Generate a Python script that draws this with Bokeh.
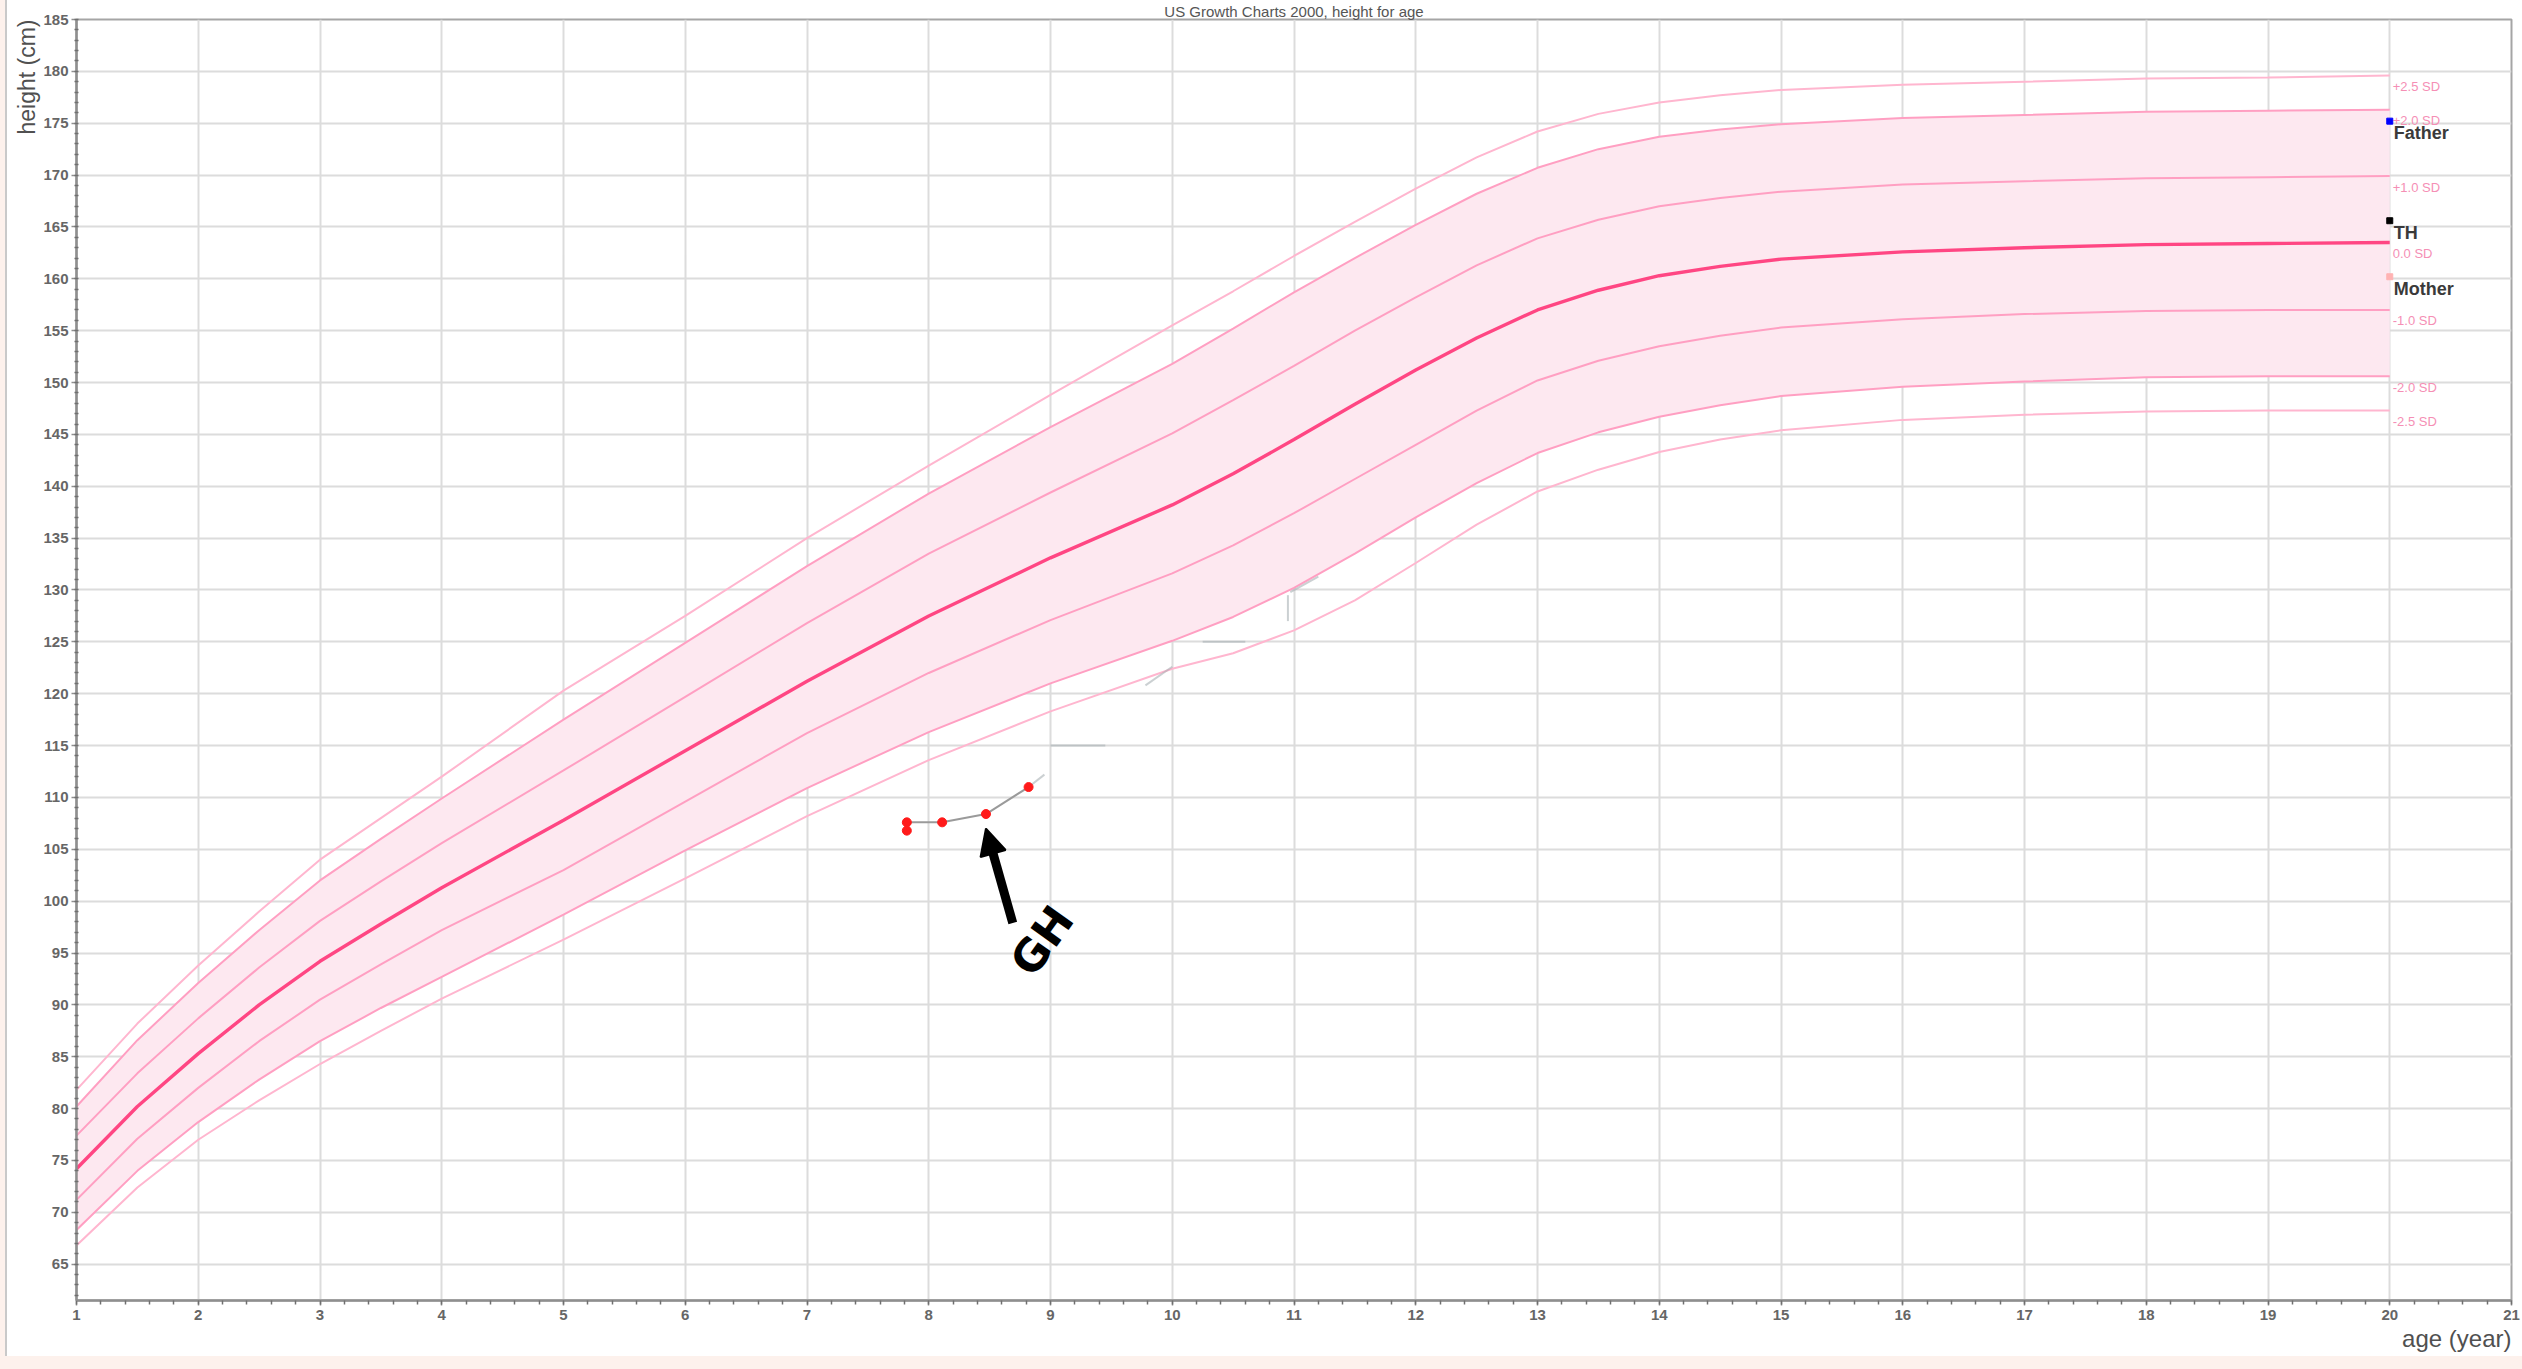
from bokeh.plotting import figure
from bokeh.models import Range1d, FixedTicker, Arrow, NormalHead, Div, Title
from bokeh.layouts import row, column
from bokeh.core.properties import value
from bokeh.embed import file_html
from bokeh.resources import INLINE

# Reference curves: height (cm) for age (years), girls, by SD line
ages = [1, 1.5, 2, 2.5, 3, 3.5, 4, 5, 6, 7, 8, 9, 10, 10.5, 11, 11.5, 12, 12.5,
        13, 13.5, 14, 14.5, 15, 16, 17, 18, 19, 20]
sd_p25 = [81.8, 88.2, 93.8, 99.0, 104.0, 108.0, 112.0, 120.3, 127.5, 135.0, 142.0, 148.8, 155.5, 158.8, 162.2, 165.5, 168.7, 171.7,
          174.2, 175.9, 177.0, 177.7, 178.2, 178.7, 179.0, 179.3, 179.4, 179.6]
sd_p20 = [80.2, 86.6, 92.1, 97.2, 102.0, 106.0, 109.9, 117.5, 124.9, 132.3, 139.3, 145.7, 151.8, 155.2, 158.7, 162.0, 165.2, 168.2,
          170.7, 172.5, 173.7, 174.4, 174.9, 175.5, 175.8, 176.1, 176.2, 176.3]
sd_p10 = [77.4, 83.4, 88.7, 93.6, 98.1, 101.9, 105.6, 112.6, 119.7, 126.8, 133.5, 139.4, 145.1, 148.3, 151.6, 155.0, 158.2, 161.3,
          163.9, 165.7, 167.0, 167.8, 168.4, 169.1, 169.4, 169.7, 169.8, 169.9]
sd_0 = [74.2, 80.2, 85.3, 90.0, 94.2, 97.8, 101.3, 107.8, 114.5, 121.2, 127.5, 133.1, 138.2, 141.2, 144.5, 147.9, 151.2, 154.3,
        157.0, 158.9, 160.3, 161.2, 161.9, 162.6, 163.0, 163.3, 163.4, 163.5]
sd_m10 = [71.2, 77.1, 82.0, 86.5, 90.5, 93.9, 97.2, 103.0, 109.6, 116.2, 122.0, 127.1, 131.6, 134.3, 137.4, 140.7, 144.0, 147.3,
          150.2, 152.1, 153.5, 154.5, 155.3, 156.1, 156.6, 156.9, 157.0, 157.0]
sd_m20 = [68.3, 74.0, 78.7, 82.8, 86.5, 89.7, 92.7, 98.7, 104.9, 110.9, 116.3, 121.0, 125.1, 127.4, 130.2, 133.5, 137.0, 140.3,
          143.2, 145.2, 146.7, 147.8, 148.7, 149.6, 150.1, 150.5, 150.6, 150.6]
sd_m25 = [66.8, 72.4, 77.0, 80.8, 84.3, 87.5, 90.6, 96.3, 102.2, 108.2, 113.6, 118.3, 122.4, 123.9, 126.1, 129.0, 132.6, 136.3,
          139.5, 141.6, 143.3, 144.5, 145.4, 146.4, 146.9, 147.2, 147.3, 147.3]
sd_labels = ["+2.5 SD", "+2.0 SD", "+1.0 SD", "0.0 SD", "-1.0 SD", "-2.0 SD", "-2.5 SD"]

# Measured heights of the patient
patient_age = [7.82, 7.82, 8.11, 8.47, 8.82]
patient_height = [106.8, 107.6, 107.6, 108.4, 111.0]

# Faint leftover strokes of a later, erased trajectory
trace_x0 = [8.82, 9.0, 9.78, 10.25, 10.95, 10.97]
trace_y0 = [111.0, 115.0, 120.8, 125.0, 127.0, 129.8]
trace_x1 = [8.95, 9.45, 10.0, 10.6, 10.95, 11.2]
trace_y1 = [112.2, 115.0, 122.6, 125.0, 129.5, 131.3]

# Parents and target height, plotted at age 20
parent_names = ["Father", "TH", "Mother"]
parent_height = [175.2, 165.6, 160.2]
parent_colors = ["#0000ff", "#000000", "#ffb3b3"]
parent_age = 20

# Hand-drawn "GH" marker with arrow
gh_arrow_from = (8.69, 97.9)
gh_arrow_to = (8.47, 107.0)
gh_text_at = (8.93, 96.2)

x_ticks = list(range(1, 22))
y_ticks = list(range(65, 186, 5))

TICK_FONT = "Liberation Sans"
GRID = "#dcdcdc"
AXIS = "#8f8f8f"
LABEL_GREY = "#505050"

p = figure(width=2515, height=1356, title=None, toolbar_location=None,
           output_backend="svg", x_range=Range1d(1, 21), y_range=Range1d(61.5, 185),
           min_border_left=69, min_border_right=11, min_border_top=17, min_border_bottom=56)
p.background_fill_color = "white"
p.border_fill_color = "white"
p.outline_line_color = "#a5a5a5"
p.outline_line_width = 2

p.xaxis.ticker = FixedTicker(ticks=x_ticks, minor_ticks=[1 + 0.2 * i for i in range(101)])
p.yaxis.ticker = FixedTicker(ticks=y_ticks, minor_ticks=list(range(62, 186)))
for ax in (p.xaxis, p.yaxis):
    ax.axis_line_color = AXIS
    ax.axis_line_width = 2.5
    ax.major_tick_line_color = AXIS
    ax.minor_tick_line_color = "#6f6f6f"
    ax.major_tick_line_width = 1.5
    ax.minor_tick_line_width = 1.5
    ax.major_label_text_font = TICK_FONT
    ax.major_label_text_font_style = "bold"
    ax.major_label_text_font_size = "15px"
    ax.major_label_text_color = "#666666"
p.xaxis.major_tick_in = 0
p.xaxis.major_tick_out = 5
p.xaxis.minor_tick_in = 0
p.xaxis.minor_tick_out = 4
p.xaxis.major_label_standoff = 4
p.yaxis.major_tick_in = 0
p.yaxis.major_tick_out = 5
p.yaxis.minor_tick_in = 2
p.yaxis.minor_tick_out = 2
p.yaxis.major_label_standoff = 3

p.xgrid.ticker = FixedTicker(ticks=x_ticks)
p.ygrid.ticker = FixedTicker(ticks=y_ticks)
for g in (p.xgrid, p.ygrid):
    g.grid_line_color = GRID
    g.grid_line_width = 2

# shaded band between -2 SD and +2 SD
p.varea(x=ages, y1=sd_m20, y2=sd_p20, fill_color="#fde8f0")

curves = [sd_p25, sd_p20, sd_p10, sd_0, sd_m10, sd_m20, sd_m25]
curve_colors = ["#ffb6cf", "#ff9fc2", "#ff9fc2", "#ff4683", "#ff9fc2", "#ff9fc2", "#ffb6cf"]
curve_widths = [2, 2, 2, 3.4, 2, 2, 2]
for ys, c, w in zip(curves, curve_colors, curve_widths):
    p.line(ages, ys, line_color=c, line_width=w)

p.text(x=[ages[-1]] * len(curves), y=[ys[-1] for ys in curves], text=sd_labels,
       x_offset=3, y_offset=11, text_font=value(TICK_FONT), text_font_size="13px",
       text_color="#f58fb5", text_baseline="middle", text_align="left")

# erased trajectory remnants
p.segment(x0=trace_x0, y0=trace_y0, x1=trace_x1, y1=trace_y1,
          line_color="#a9b0b4", line_width=2, line_alpha=0.6)

# patient measurements
p.line(patient_age, patient_height, line_color="#9a9a9a", line_width=2)
p.scatter(patient_age, patient_height, size=9, color="#ff1a1a")

# parents and target height
p.scatter(x=[parent_age] * 3, y=parent_height, marker="square", size=6, color=parent_colors)
p.text(x=[parent_age] * 3, y=parent_height, text=parent_names, x_offset=4, y_offset=12,
       text_font=value(TICK_FONT), text_font_style="bold", text_font_size="18px",
       text_color="#3a3a3a", text_baseline="middle", text_align="left")

# GH annotation
p.add_layout(Arrow(end=NormalHead(size=26, fill_color="black", line_color="black", line_width=2),
                   x_start=gh_arrow_from[0], y_start=gh_arrow_from[1],
                   x_end=gh_arrow_to[0], y_end=gh_arrow_to[1],
                   line_color="black", line_width=9))
p.text(x=[gh_text_at[0]], y=[gh_text_at[1]], text=["GH"], angle=0.95,
       text_font=value("DejaVu Sans"), text_font_style="bold", text_font_size="44px",
       text_color="black", text_align="center", text_baseline="middle")

# chart title and axis titles
p.add_layout(Title(text="US Growth Charts 2000, height for age", align="center",
                   text_font=TICK_FONT, text_font_size="15px", text_font_style="normal",
                   text_color="#555555", standoff=0, offset=-18), "above")
p.add_layout(Title(text="height (cm)", align="right",
                   text_font=TICK_FONT, text_font_size="23px", text_font_style="normal",
                   text_color=LABEL_GREY, standoff=2), "left")
p.add_layout(Title(text="age (year)", align="right",
                   text_font=TICK_FONT, text_font_size="24px", text_font_style="normal",
                   text_color=LABEL_GREY, standoff=0), "below")

left_strip = Div(width=7, height=1356, margin=0,
                 styles={"background-color": "#fdf1ec", "border-right": "2px solid #c9c9c9",
                         "box-sizing": "border-box"})
bottom_band = Div(width=2522, height=13, margin=0, styles={"background-color": "#fdf1ec"})
page = column(row(left_strip, p, spacing=0), bottom_band, spacing=0)

with open("out.html", "w") as f:
    f.write(file_html(page, INLINE))
